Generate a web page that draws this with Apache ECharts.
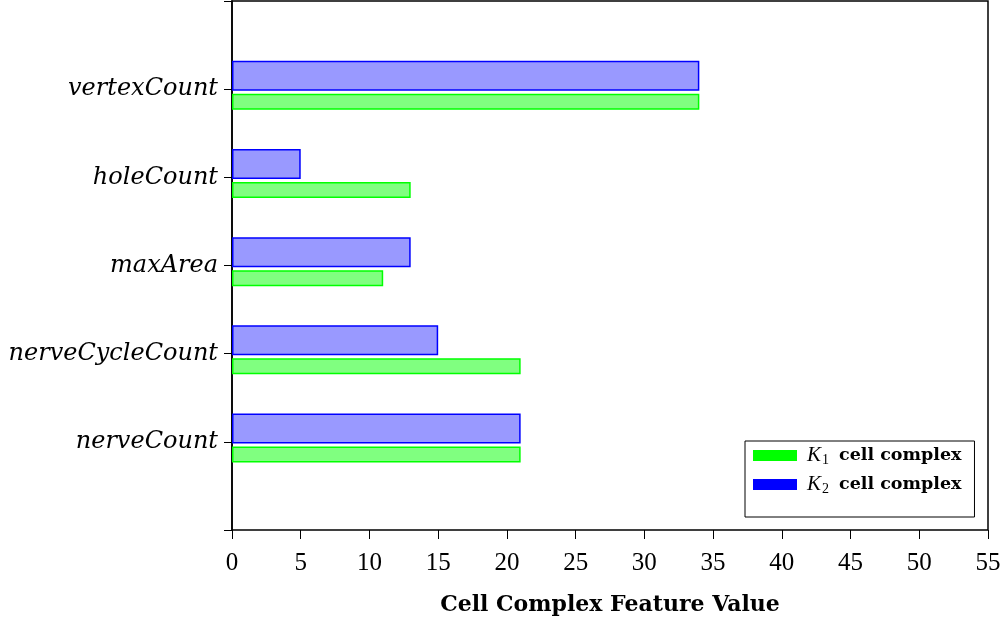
<!DOCTYPE html>
<html>
<head>
<meta charset="utf-8">
<script src="https://cdn.jsdelivr.net/npm/echarts@6/dist/echarts.min.js"></script>
<style>
  html, body { margin: 0; padding: 0; background: #fff; }
  #chart { width: 1005px; height: 625px; }
</style>
</head>
<body>
<div id="chart"></div>
<script>
// categories bottom -> top
const categories = ["nerveCount", "nerveCycleCount", "maxArea", "holeCount", "vertexCount"];
const k1Values = [21, 21, 11, 13, 34];
const k2Values = [21, 15, 13, 5, 34];
const xTicks = { min: 0, max: 55, interval: 5 };

// pad one empty slot at each end so the y axis runs 0..6
const axisCats = [""].concat(categories, [" "]);
const pad = vals => ["-"].concat(vals, ["-"]);

const serif = "Liberation Serif";
const chart = echarts.init(document.getElementById("chart"));

chart.setOption({
  animation: false,
  grid: {
    left: 232, right: 17, top: 1, bottom: 95,
    outerBoundsMode: "none",
    containLabel: false,
    show: true, borderColor: "#000", borderWidth: 1.5
  },
  legend: {
    data: [
      { name: "K1", itemStyle: { color: "#00ff00", borderWidth: 0 } },
      { name: "K2", itemStyle: { color: "#0000ff", borderWidth: 0 } }
    ],
    orient: "vertical",
    left: 745, top: 441,
    padding: [4, 13, 21, 8],
    itemGap: 7,
    itemWidth: 44, itemHeight: 11,
    icon: "rect",
    borderColor: "#000", borderWidth: 1,
    backgroundColor: "#fff",
    formatter: name => "{k|K}{s|" + name.slice(1) + "}{b|cell complex}",
    textStyle: {
      rich: {
        k: { fontFamily: serif, fontStyle: "italic", fontSize: 21, color: "#000", padding: [0, 0, 0, 5] },
        s: { fontFamily: serif, fontSize: 14, color: "#000", padding: [9, 10, 0, 1] },
        b: { fontFamily: "DejaVu Serif", fontWeight: "bold", fontSize: 17.5, color: "#000" }
      }
    }
  },
  xAxis: {
    type: "value",
    min: xTicks.min, max: xTicks.max, interval: xTicks.interval,
    name: "Cell Complex Feature Value",
    nameLocation: "middle",
    nameGap: 64,
    nameTextStyle: { fontFamily: "DejaVu Serif", fontWeight: "bold", fontSize: 22, color: "#000" },
    axisLine: { lineStyle: { color: "#000", width: 1.6 } },
    axisTick: { show: true, length: 9, lineStyle: { color: "#000" } },
    axisLabel: { fontFamily: serif, fontSize: 25, color: "#000", margin: 21 },
    splitLine: { show: false }
  },
  yAxis: {
    type: "category",
    data: axisCats,
    boundaryGap: false,
    axisLine: { lineStyle: { color: "#000", width: 1.6 } },
    axisTick: { show: true, length: 8, lineStyle: { color: "#000" } },
    axisLabel: { fontFamily: "DejaVu Serif", fontStyle: "italic", fontSize: 24, color: "#000", margin: 14 },
    splitLine: { show: false }
  },
  series: [
    {
      name: "K2",
      type: "bar",
      data: pad(k2Values),
      barWidth: 30,
      barGap: "10%",
      itemStyle: { color: "#9999ff", borderColor: "#0000ff", borderWidth: 1.5 }
    },
    {
      name: "K1",
      type: "bar",
      data: pad(k1Values),
      barWidth: 16,
      barGap: "10%",
      itemStyle: { color: "#80ff80", borderColor: "#00ff00", borderWidth: 1.5 }
    },
    {
      // spacer so the bar pair sits slightly above the tick like the original
      name: "spacer",
      type: "bar",
      data: pad([null, null, null, null, null]),
      barWidth: 6,
      barGap: "10%",
      silent: true
    }
  ]
});
</script>
</body>
</html>
